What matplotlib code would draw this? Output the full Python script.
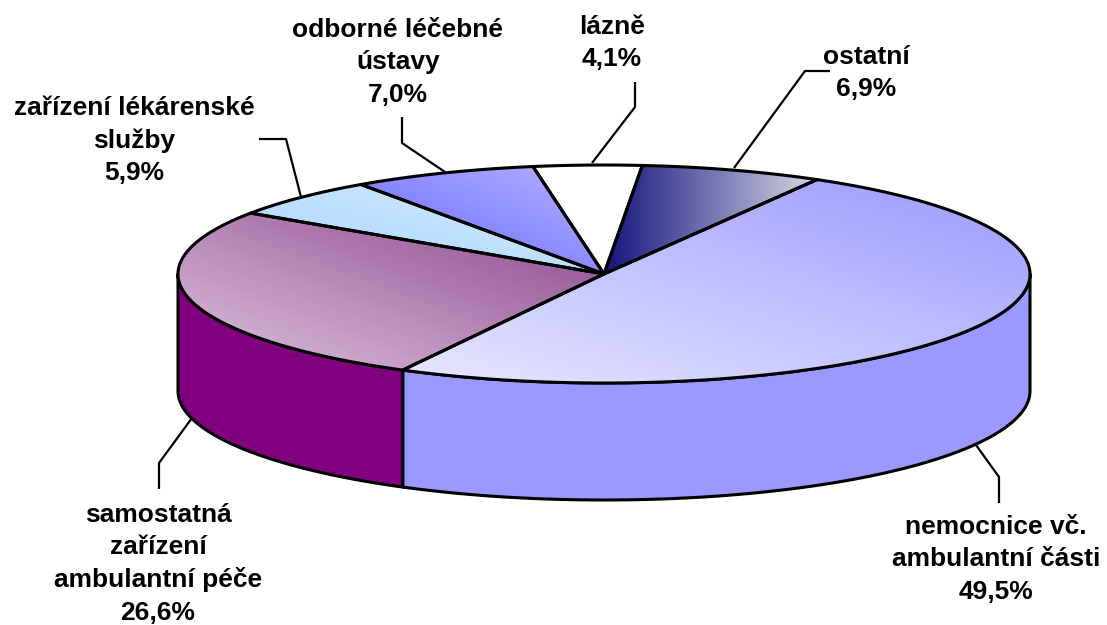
import numpy as np
import matplotlib
matplotlib.use("Agg")
import matplotlib.pyplot as plt
from matplotlib.colors import to_rgb
from matplotlib.patches import Polygon

# data, clockwise from the first slice
categories = [
    ["nemocnice vč.", "ambulantní části"],
    ["samostatná", "zařízení", "ambulantní péče"],
    ["zařízení lékárenské", "služby"],
    ["odborné léčebné", "ústavy"],
    ["lázně"],
    ["ostatní"],
]
shares = [49.5, 26.6, 5.9, 7.0, 4.1, 6.9]

# top-face gradient (light end, dark end, direction in bbox units) and side colour
top_colors = [
    ("#e8e8ff", "#9999ff", (1.0, -1.0)),
    ("#dfc3df", "#8b468b", (1.0, -1.0)),
    ("#a8d4ff", "#d6edff", (1.0, -1.0)),
    ("#6464ff", "#b4b4ff", (1.0, -1.0)),
    ("#ffffff", "#ffffff", (1.0, 0.0)),
    ("#14147c", "#d6d6e6", (1.0, 0.0)),
]
side_colors = ["#9999ff", "#800080", "#99ccff", "#6666ff", "#ffffff", "#333399"]

# label anchors (centre x, first line y) and leader polylines in pixel space
label_pos = [(996, 527), (158, 515), (134, 108), (398, 30), (612, 27), (866, 57)]
leaders = [
    [(976, 445), (999, 477), (999, 503)],
    [(192, 418), (159, 463), (159, 489)],
    [(301, 197), (286, 139), (259, 139)],
    [(445, 172), (402, 143), (402, 117)],
    [(592, 163), (635, 107), (635, 82)],
    [(734, 168), (805, 71), (830, 71)],
]

W, H = 1107, 625
CX, CY, RX, RY, DEPTH = 604, 274, 426, 109, 117
START = 60.0
FONT = "Liberation Sans"
EDGE_LW = 2.2


def ell(theta_deg, dy=0.0):
    t = np.radians(theta_deg)
    return CX + RX * np.cos(t), CY - RY * np.sin(t) + dy


def gradient_fill(ax, verts, c0, c1, direction, zorder):
    verts = np.asarray(verts)
    patch = Polygon(verts, closed=True, facecolor="none", edgecolor="none")
    ax.add_patch(patch)
    x0, y0 = verts.min(axis=0)
    x1, y1 = verts.max(axis=0)
    nx, ny = int(x1 - x0) + 2, int(y1 - y0) + 2
    U, V = np.meshgrid(np.linspace(0, 1, nx), np.linspace(0, 1, ny))
    dx, dy = direction
    proj = U * dx + V * dy
    corners = np.array([0, dx, dy, dx + dy])
    t = (proj - corners.min()) / max(corners.max() - corners.min(), 1e-9)
    a, b = np.array(to_rgb(c0)), np.array(to_rgb(c1))
    img = a[None, None, :] * (1 - t[..., None]) + b[None, None, :] * t[..., None]
    im = ax.imshow(img, extent=(x0, x1, y0, y1), origin="lower",
                   interpolation="bilinear", zorder=zorder, aspect="auto")
    im.set_clip_path(patch)


fig = plt.figure(figsize=(W / 100, H / 100), dpi=100)
ax = fig.add_axes([0, 0, 1, 1])
ax.set_xlim(0, W)
ax.set_ylim(H, 0)
ax.axis("off")

bounds = START - np.concatenate([[0], np.cumsum(shares)]) * 3.6

# side walls (front half only: angles between -180 and 0)
for i in range(len(shares)):
    hi, lo = bounds[i], bounds[i + 1]
    for k in range(-2, 2):
        a = max(lo, -180 + 360 * k)
        b = min(hi, 0 + 360 * k)
        if b <= a:
            continue
        th = np.linspace(a, b, 120)
        top = np.column_stack(ell(th))
        bot = np.column_stack(ell(th[::-1], DEPTH))
        ax.add_patch(Polygon(np.vstack([top, bot]), closed=True,
                             facecolor=side_colors[i], edgecolor="black",
                             linewidth=EDGE_LW, joinstyle="round", zorder=2))

# top faces
for i in range(len(shares)):
    hi, lo = bounds[i], bounds[i + 1]
    th = np.linspace(hi, lo, max(int((hi - lo) * 2), 8))
    arc = np.column_stack(ell(th))
    verts = np.vstack([[CX, CY], arc])
    c0, c1, d = top_colors[i]
    gradient_fill(ax, verts, c0, c1, d, zorder=3)
    ax.add_patch(Polygon(verts, closed=True, facecolor="none", edgecolor="black",
                         linewidth=EDGE_LW, joinstyle="round", zorder=4))

# leader lines and labels
for i, pts in enumerate(leaders):
    pts = np.asarray(pts)
    ax.plot(pts[:, 0], pts[:, 1], color="black", linewidth=1.6, zorder=5,
            solid_capstyle="butt")
    lines = categories[i] + [f"{shares[i]:.1f}%".replace(".", ",")]
    x, y = label_pos[i]
    for j, line in enumerate(lines):
        ax.text(x, y + j * 32.5, line, ha="center", va="center", fontsize=19,
                fontweight="bold", family=FONT, color="black", zorder=6)

fig.savefig("out.png", dpi=100)
